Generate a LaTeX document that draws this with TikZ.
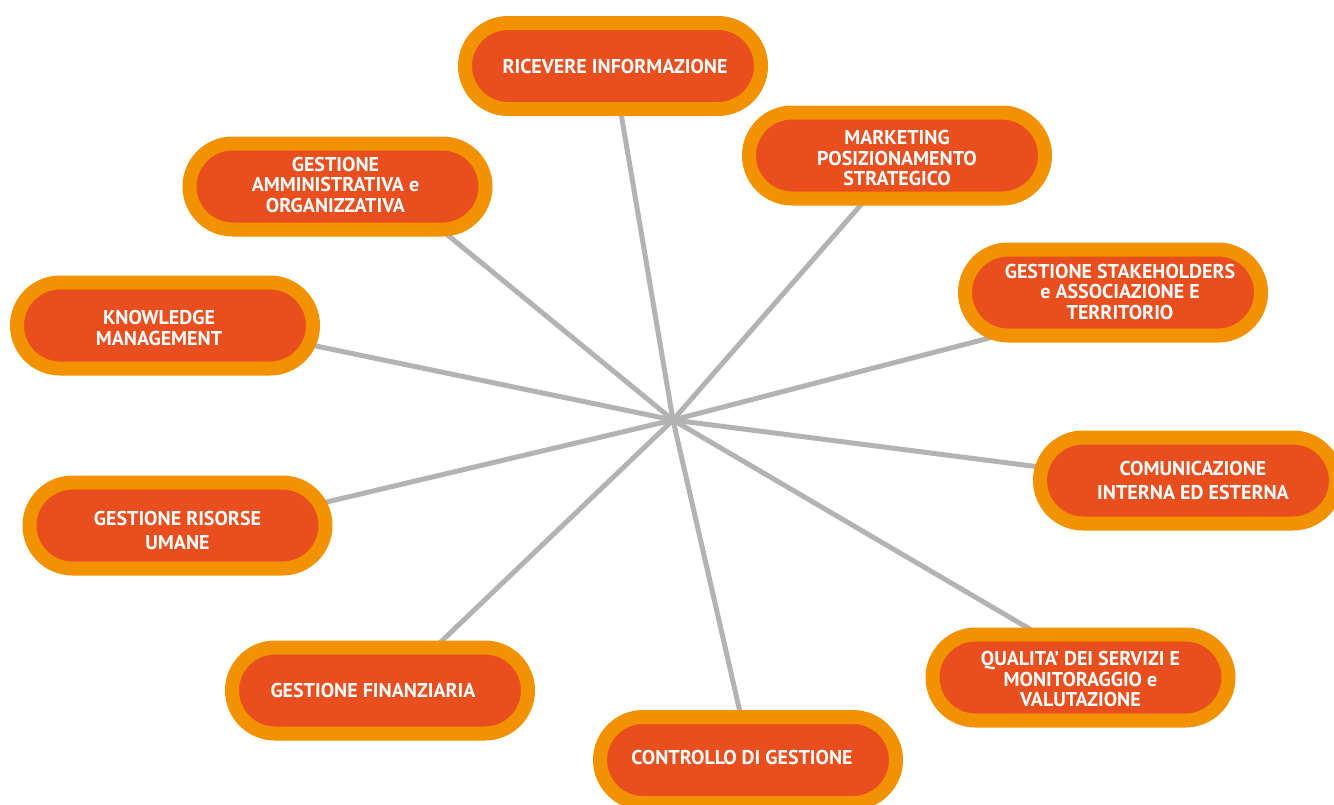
\documentclass[tikz,border=0pt]{standalone}
\usepackage{fontspec}
\setmainfont{PT Sans}
\usetikzlibrary{shapes.misc,backgrounds}
\definecolor{ringorange}{HTML}{F39200}
\definecolor{pillred}{HTML}{E94F1E}
\definecolor{spoke}{HTML}{B3B3B3}
\tikzset{
  pill/.style={rounded rectangle, fill=pillred, draw=ringorange, line width=14pt,
    minimum width=296pt, minimum height=86pt, inner sep=0pt},
  lbl/.style={text=white, align=center, inner sep=0pt,
    font=\bfseries\fontsize{20}{20.5}\selectfont},
  lblw/.style={lbl, font=\bfseries\fontsize{20}{24}\selectfont},
  spokeline/.style={draw=spoke, line width=5pt}
}
\begin{document}
\begin{tikzpicture}[x=1pt,y=-1pt]
\useasboundingbox (0,0) rectangle (1334,804);
\clip (0,0) rectangle (1334,804);
\coordinate (hub) at (673,420);
% pills
\node[pill] (ric) at (613,66) {};
\node[pill] (mkt) at (897,155.5) {};
\node[pill] (stk) at (1113,292.5) {};
\node[pill] (com) at (1188,480.5) {};
\node[pill] (qua) at (1080.5,677.5) {};
\node[pill] (ctl) at (748,760) {};
\node[pill] (fin) at (380,690.5) {};
\node[pill] (ris) at (177.5,525.5) {};
\node[pill] (kno) at (165,325.5) {};
\node[pill] (amm) at (337.5,186.5) {};
% labels
\node[lbl] (ric-t) at ([xshift=2pt]ric.center) {RICEVERE INFORMAZIONE};
\node[lbl] (mkt-t) at ([yshift=-2.5pt]mkt.center) {MARKETING\\POSIZIONAMENTO\\STRATEGICO};
\node[lbl] (stk-t) at ([xshift=7pt,yshift=1pt]stk.center) {GESTIONE STAKEHOLDERS\\e ASSOCIAZIONE E\\TERRITORIO};
\node[lblw] (com-t) at ([xshift=5pt]com.center) {COMUNICAZIONE\\INTERNA ED ESTERNA};
\node[lbl] (qua-t) at ([yshift=-1.5pt]qua.center) {QUALITA’ DEI SERVIZI E\\MONITORAGGIO e\\VALUTAZIONE};
\node[lbl] (ctl-t) at ([xshift=-6pt,yshift=3pt]ctl.center) {CONTROLLO DI GESTIONE};
\node[lbl] (fin-t) at ([xshift=-7pt]fin.center) {GESTIONE FINANZIARIA};
\node[lblw] (ris-t) at ([yshift=-5pt]ris.center) {GESTIONE RISORSE\\UMANE};
\node[lbl] (kno-t) at ([xshift=-6pt,yshift=-2.5pt]kno.center) {KNOWLEDGE\\MANAGEMENT};
\node[lbl] (amm-t) at ([xshift=-2pt,yshift=2pt]amm.center) {GESTIONE\\AMMINISTRATIVA e\\ORGANIZZATIVA};
% spokes
\begin{pgfonlayer}{background}
\draw[spokeline] (hub) -- (ric.center);
\draw[spokeline] (hub) -- ([xshift=7pt]mkt.center);
\draw[spokeline] (hub) -- ([xshift=52pt]stk.center);
\draw[spokeline] (hub) -- ([xshift=-43pt]com.center);
\draw[spokeline] (hub) -- ([xshift=32pt]qua.center);
\draw[spokeline] (hub) -- ([xshift=3pt]ctl.center);
\draw[spokeline] (hub) -- ([xshift=10pt]fin.center);
\draw[spokeline] (hub) -- ([xshift=50pt]ris.center);
\draw[spokeline] (hub) -- ([xshift=52pt]kno.center);
\draw[spokeline] (hub) -- ([xshift=51pt]amm.center);
\end{pgfonlayer}
\end{tikzpicture}
\end{document}
